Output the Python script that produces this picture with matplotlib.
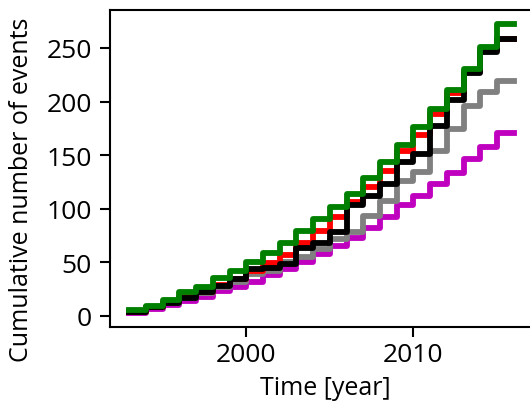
import matplotlib
matplotlib.use("Agg")
import matplotlib.pyplot as plt

plt.rcParams['font.family'] = ['Open Sans', 'DejaVu Sans']

# anos (cada degrau = 1 ano)
anos = list(range(1993, 2016))

# numero acumulado de eventos por serie
verde = [5, 9, 15, 22, 27, 35, 42, 50, 59, 68, 79, 90, 102, 114, 129, 144, 159, 176, 193, 211, 230, 251, 272]
vermelho = [4, 8, 13, 18, 22, 29, 34, 42, 49, 57, 68, 79, 92, 106, 120, 135, 154, 169, 188, 208, 228, 248, 258]
preto = [4, 8, 12, 17, 22, 28, 34, 44, 45, 48, 63, 68, 78, 103, 112, 123, 144, 151, 177, 201, 227, 246, 258]
cinza = [4, 8, 12, 17, 21, 27, 32, 39, 42, 50, 55, 62, 72, 78, 93, 107, 126, 134, 154, 174, 196, 209, 219]
magenta = [3, 6, 10, 14, 18, 23, 27, 32, 38, 44, 50, 58, 65, 73, 82, 92, 103, 112, 123, 133, 146, 158, 171]

# ultimo degrau vai ate 2016
x = anos + [anos[-1] + 1]

fig = plt.figure(figsize=(5.3, 4.06), dpi=100)
ax = fig.add_axes([110/530, 78/406, 423/530, 317/406])

for serie, cor in [(magenta, 'm'), (cinza, 'gray'), (vermelho, 'red'), (preto, 'k'), (verde, 'green')]:
  ax.step(x, serie + [serie[-1]], where='post', color=cor, lw=4.2)

ax.set_xticks([2000, 2010])
ax.set_yticks([0, 50, 100, 150, 200, 250])
ax.tick_params(labelsize=19, length=7, width=1.5)
ax.tick_params(axis='y', pad=6)
for s in ax.spines.values():
  s.set_linewidth(1.5)
ax.set_xlabel('Time [year]', fontsize=18)
ax.set_ylabel('Cumulative number of events', fontsize=18)
ax.xaxis.set_label_coords(0.508, -0.15)
ax.yaxis.set_label_coords(-0.18, 0.435)

fig.savefig('out.png', dpi=100)
